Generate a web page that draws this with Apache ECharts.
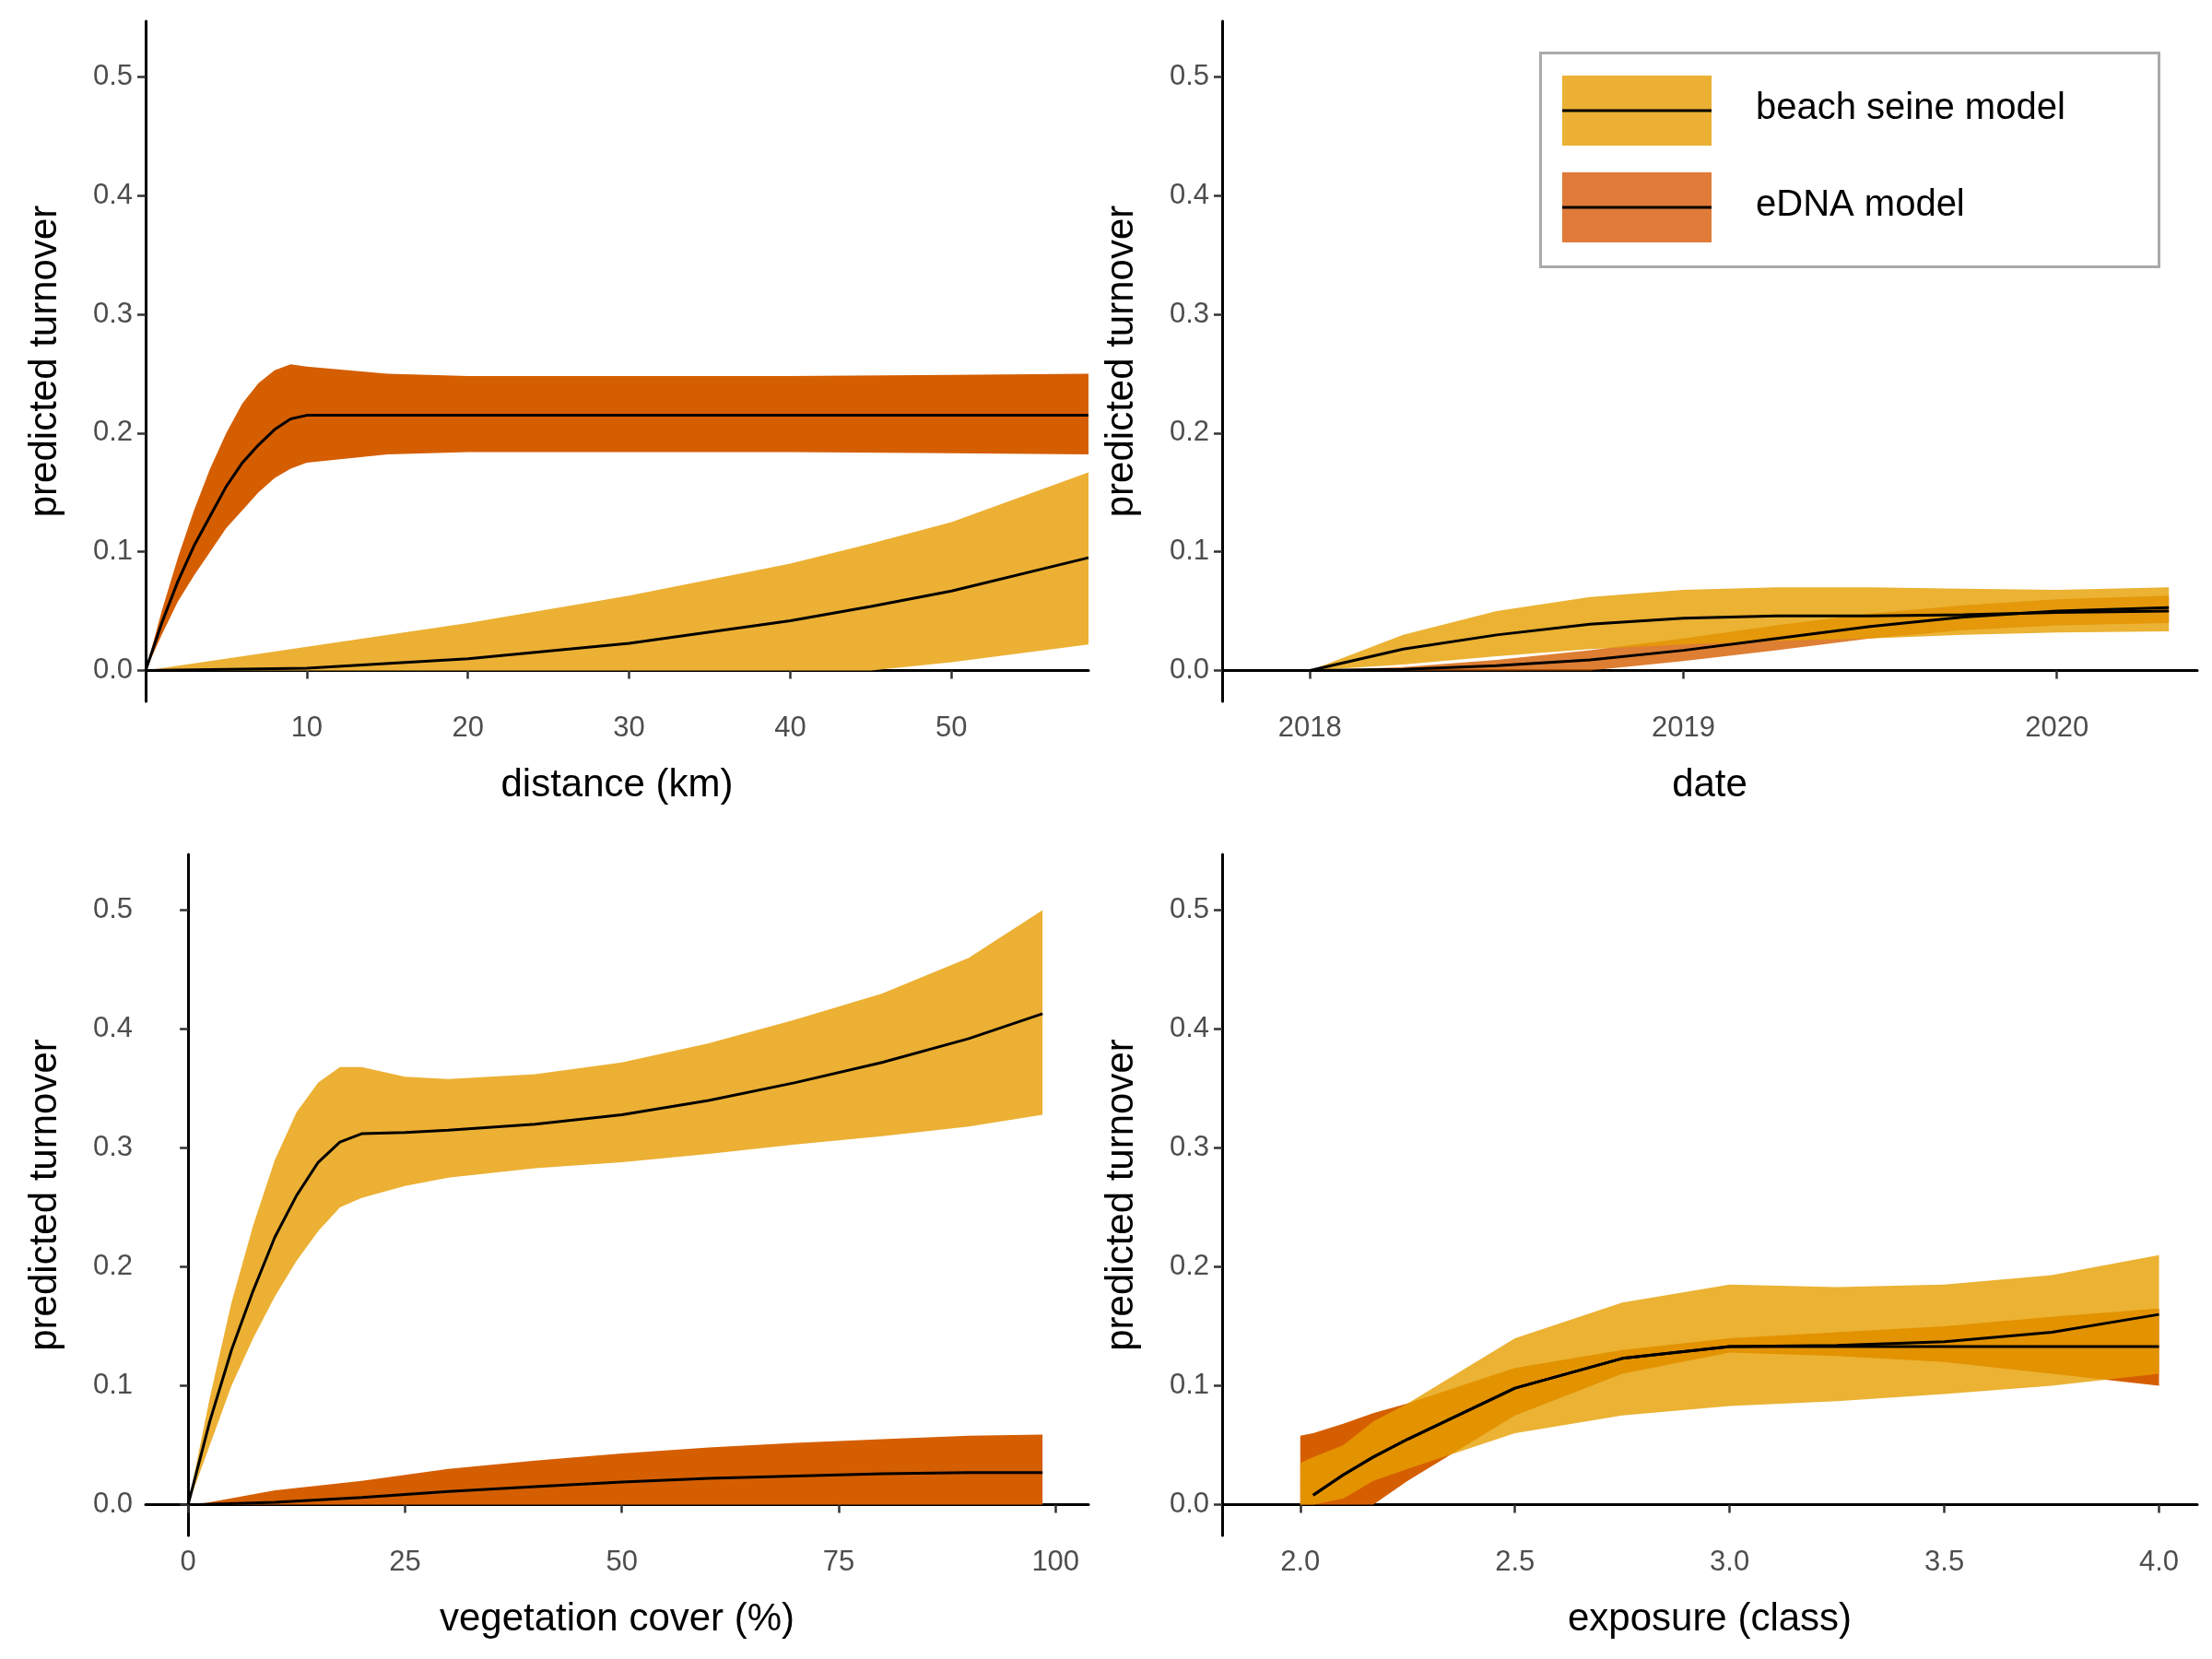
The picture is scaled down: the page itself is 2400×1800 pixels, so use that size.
<!DOCTYPE html>
<html><head><meta charset="utf-8">
<script src="https://cdn.jsdelivr.net/npm/echarts@6/dist/echarts.min.js"></script>
<style>html,body{margin:0;background:#fff}#main{width:2400px;height:1800px}</style>
</head><body><div id="main"></div>
<script>
// distance panel
var distX = [0,1,2,3,4,5,6,7,8,9,10,15,20,30,40,50,58.5];
var distEdnaMean = [0,0.04,0.075,0.105,0.13,0.155,0.175,0.19,0.203,0.212,0.215,0.215,0.215,0.215,0.215,0.215,0.215];
var distEdnaUp = [0,0.05,0.095,0.135,0.17,0.2,0.225,0.242,0.253,0.258,0.256,0.25,0.248,0.248,0.248,0.249,0.25];
var distEdnaLo = [0,0.03,0.058,0.08,0.1,0.12,0.135,0.15,0.162,0.17,0.175,0.182,0.184,0.184,0.184,0.183,0.182];
var distBsX = [0,10,20,30,40,45,50,58.5];
var distBsMean = [0,0.002,0.01,0.023,0.042,0.054,0.067,0.095];
var distBsUp = [0,0.02,0.04,0.063,0.09,0.107,0.125,0.167];
var distBsLo = [0,0,0,0,0,0,0.007,0.022];
// date panel
var dateX = [2018,2018.25,2018.5,2018.75,2019,2019.25,2019.5,2019.75,2020,2020.3];
var dateBsMean = [0,0.018,0.03,0.039,0.044,0.046,0.046,0.047,0.049,0.05];
var dateBsUp = [0,0.03,0.05,0.062,0.068,0.07,0.07,0.069,0.068,0.07];
var dateBsLo = [0,0.005,0.012,0.018,0.022,0.025,0.027,0.03,0.032,0.033];
var dateEdnaMean = [0,0.001,0.004,0.009,0.017,0.027,0.037,0.045,0.05,0.053];
var dateEdnaUp = [0,0.003,0.009,0.017,0.027,0.038,0.048,0.055,0.06,0.063];
var dateEdnaLo = [0,0,0,0,0.008,0.017,0.027,0.034,0.038,0.04];
// vegetation panel
var vegBsX = [0,2.5,5,7.5,10,12.5,15,17.5,20,25,30,40,50,60,70,80,90,98.5];
var vegBsMean = [0,0.07,0.13,0.18,0.225,0.26,0.288,0.305,0.312,0.313,0.315,0.32,0.328,0.34,0.355,0.372,0.392,0.413];
var vegBsUp = [0,0.09,0.17,0.235,0.29,0.33,0.355,0.368,0.368,0.36,0.358,0.362,0.372,0.388,0.408,0.43,0.46,0.5];
var vegBsLo = [0,0.05,0.1,0.14,0.175,0.205,0.23,0.25,0.258,0.268,0.275,0.283,0.288,0.295,0.303,0.31,0.318,0.328];
var vegEdnaX = [1,10,20,30,40,50,60,70,80,90,98.5];
var vegEdnaMean = [0,0.002,0.006,0.011,0.015,0.019,0.022,0.024,0.026,0.027,0.027];
var vegEdnaUp = [0,0.012,0.02,0.03,0.037,0.043,0.048,0.052,0.055,0.058,0.059];
var vegEdnaLo = [0,0,0,0,0,0,0,0,0,0,0];
// exposure panel
var expX = [2.0,2.03,2.1,2.17,2.25,2.5,2.75,3.0,3.25,3.5,3.75,4.0];
var expBsMean = [null,0.008,0.025,0.04,0.055,0.098,0.123,0.133,0.134,0.137,0.145,0.16];
var expBsUp = [0.035,0.04,0.05,0.07,0.085,0.14,0.17,0.185,0.183,0.185,0.193,0.21];
var expBsLo = [0,0,0.005,0.02,0.03,0.06,0.075,0.083,0.087,0.093,0.1,0.11];
var expEdnaMean = [null,0.008,0.025,0.04,0.055,0.098,0.123,0.133,0.133,0.133,0.133,0.133];
var expEdnaUp = [0.058,0.06,0.068,0.077,0.085,0.115,0.13,0.14,0.145,0.15,0.158,0.165];
var expEdnaLo = [0,0,0,0,0.02,0.075,0.11,0.128,0.125,0.12,0.11,0.1];

var yTicks = [0,0.1,0.2,0.3,0.4,0.5];
var BS = 'rgba(230,159,0,0.8)', ED = 'rgba(213,94,0,0.8)';
var myChart = echarts.init(document.getElementById('main'));

function zip(x, a){ return x.map(function(v,i){ return [v, a[i]]; }); }
function band(idx, x, lo, up, col){
  return { type:'custom', xAxisIndex:idx, yAxisIndex:idx, silent:true,
    data: x.map(function(v,i){ return [v, lo[i], up[i]]; }),
    renderItem: function(params, api){
      if (params.dataIndex !== 0) return null;
      var pts = [];
      for (var i=0;i<x.length;i++) pts.push(api.coord([x[i], up[i]]));
      for (var j=x.length-1;j>=0;j--) pts.push(api.coord([x[j], lo[j]]));
      return { type:'polygon', shape:{ points:pts }, style:{ fill: col } };
    } };
}
function line(idx, x, m){
  return { type:'line', xAxisIndex:idx, yAxisIndex:idx, data: zip(x,m), showSymbol:false,
    lineStyle:{ color:'#000', width:3 }, z:5, silent:true };
}
var grids = [
  {left:158, top:23, width:1023, height:738},
  {left:1326, top:23, width:1058, height:738},
  {left:158, top:927, width:1023, height:739},
  {left:1326, top:927, width:1058, height:739}
];
var xs = [
  {min:0, max:58.5, ticks:[10,20,30,40,50], name:'distance (km)', fmt:function(v){return v;}},
  {min:2017.765, max:2020.376, ticks:[2018,2019,2020], name:'date', fmt:function(v){return Math.round(v);}},
  {min:-4.9, max:103.8, ticks:[0,25,50,75,100], name:'vegetation cover (%)', fmt:function(v){return v;}},
  {min:1.818, max:4.089, ticks:[2,2.5,3,3.5,4], name:'exposure (class)', fmt:function(v){return v.toFixed(1);}}
];
var axisCommon = {
  axisLine:{ lineStyle:{ color:'#000', width:3 } },
  axisTick:{ show:true, length:9, lineStyle:{ color:'#333', width:2.5 } },
  axisLabel:{ color:'#4d4d4d', fontSize:31, fontFamily:'Arial, Liberation Sans' },
  splitLine:{ show:false }
};
var xAxis = xs.map(function(a,i){
  return Object.assign({}, axisCommon, { type:'value', gridIndex:i, min:a.min, max:a.max,
    name:a.name, nameLocation:'middle', nameGap:70,
    nameTextStyle:{ color:'#000', fontSize:42, fontFamily:'Arial, Liberation Sans' },
    axisTick:Object.assign({}, axisCommon.axisTick, { customValues:a.ticks }),
    axisLabel:Object.assign({}, axisCommon.axisLabel, { customValues:a.ticks, formatter:a.fmt, margin:14 }) });
});
var yAxis = [0,1,2,3].map(function(i){
  return Object.assign({}, axisCommon, { type:'value', gridIndex:i, min:-0.026, max:0.547,
    name:'predicted turnover', nameLocation:'middle', nameGap:88,
    nameTextStyle:{ color:'#000', fontSize:42, fontFamily:'Arial, Liberation Sans' },
    axisTick:Object.assign({}, axisCommon.axisTick, { customValues:yTicks }),
    axisLabel:Object.assign({}, axisCommon.axisLabel, { customValues:yTicks, margin:14,
      formatter:function(v){ return v.toFixed(1); } }) });
});
var series = [
  band(0, distEdnaX = distX, distEdnaLo, distEdnaUp, '#D55E00'),
  band(0, distBsX, distBsLo, distBsUp, '#ECB034'),
  line(0, distX, distEdnaMean), line(0, distBsX, distBsMean),
  band(1, dateX, dateEdnaLo, dateEdnaUp, ED),
  band(1, dateX, dateBsLo, dateBsUp, BS),
  line(1, dateX, dateEdnaMean), line(1, dateX, dateBsMean),
  band(2, vegEdnaX, vegEdnaLo, vegEdnaUp, '#D55E00'),
  band(2, vegBsX, vegBsLo, vegBsUp, '#ECB034'),
  line(2, vegEdnaX, vegEdnaMean), line(2, vegBsX, vegBsMean),
  band(3, expX, expEdnaLo, expEdnaUp, '#D55E00'),
  band(3, expX, expBsLo, expBsUp, BS),
  line(3, expX, expEdnaMean), line(3, expX, expBsMean)
];
var lf = { fontSize:40, fill:'#000', fontFamily:'Arial, Liberation Sans' };
myChart.setOption({
  animation:false,
  grid:grids, xAxis:xAxis, yAxis:yAxis, series:series,
  graphic:[
    {type:'rect', left:1670, top:56, shape:{width:671, height:232}, style:{fill:'#fff', stroke:'#aaa', lineWidth:3}, z:10},
    {type:'rect', left:1695, top:82, shape:{width:162, height:76}, style:{fill:'#ECB034'}, z:11},
    {type:'line', shape:{x1:1695, y1:120, x2:1857, y2:120}, style:{stroke:'#000', lineWidth:3}, z:12},
    {type:'text', left:1905, top:98, style:Object.assign({text:'beach seine model'}, lf), z:12},
    {type:'rect', left:1695, top:187, shape:{width:162, height:76}, style:{fill:'#E07B39'}, z:11},
    {type:'line', shape:{x1:1695, y1:225, x2:1857, y2:225}, style:{stroke:'#000', lineWidth:3}, z:12},
    {type:'text', left:1905, top:203, style:Object.assign({text:'eDNA model'}, lf), z:12}
  ]
});
</script></body></html>
